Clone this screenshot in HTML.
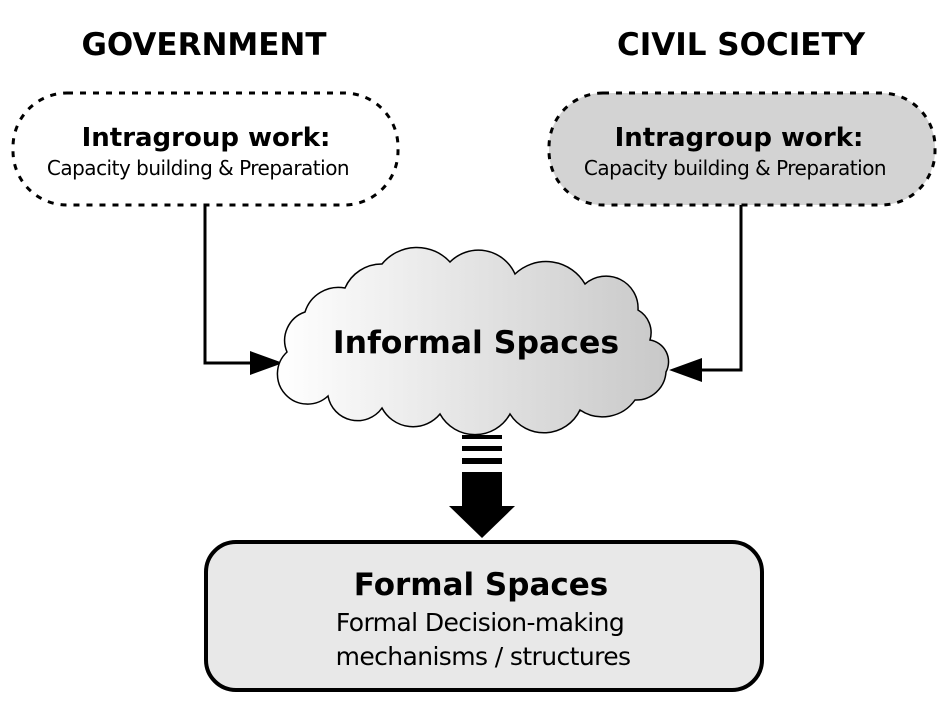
<!DOCTYPE html>
<html><head><meta charset="utf-8"><style>
html,body{margin:0;padding:0;background:#fff}
svg{display:block}
text{font-family:"DejaVu Sans","Liberation Sans",sans-serif;fill:#000}
</style></head><body>
<svg width="945" height="721" viewBox="0 0 945 721" xmlns="http://www.w3.org/2000/svg">
<defs>
<linearGradient id="cg" x1="0" x2="1" y1="0" y2="0">
<stop offset="0" stop-color="#ffffff"/><stop offset="1" stop-color="#c8c8c8"/>
</linearGradient>
</defs>
<text x="204" y="55" font-size="31" font-weight="bold" text-anchor="middle">GOVERNMENT</text>
<text x="741" y="55" font-size="31" font-weight="bold" text-anchor="middle">CIVIL SOCIETY</text>

<rect x="13" y="93" width="385" height="112" rx="54" fill="#fff" stroke="#000" stroke-width="3" stroke-dasharray="6 7"/>
<text x="206" y="146" font-size="26" font-weight="bold" text-anchor="middle">Intragroup work:</text>
<text x="198" y="175" font-size="20" text-anchor="middle" letter-spacing="-0.5">Capacity building &amp; Preparation</text>

<rect x="549" y="93" width="386" height="112" rx="54" fill="#d3d3d3" stroke="#000" stroke-width="3" stroke-dasharray="6 7"/>
<text x="739" y="146" font-size="26" font-weight="bold" text-anchor="middle">Intragroup work:</text>
<text x="735" y="175" font-size="20" text-anchor="middle" letter-spacing="-0.5">Capacity building &amp; Preparation</text>

<polyline points="205,205 205,363 255,363" fill="none" stroke="#000" stroke-width="3"/>
<polygon points="250,351 283,363 250,375" fill="#000"/>
<polyline points="741,205 741,370 700,370" fill="none" stroke="#000" stroke-width="3"/>
<polygon points="702,358 669,370 702,382" fill="#000"/>

<path d="M287,352 A30,30 0 0 1 305,312 A35,35 0 0 1 345,288 A40,40 0 0 1 382,264 A45,45 0 0 1 450,262 A40,40 0 0 1 515,274 A45,45 0 0 1 585,284 A32,32 0 0 1 638,310 A26,26 0 0 1 650,340 A22,22 0 0 1 666,372 A30,30 0 0 1 635,400 A40,40 0 0 1 580,410 A40,40 0 0 1 510,414 A40,40 0 0 1 440,414 A35,35 0 0 1 382,408 A30,30 0 0 1 328,396 A28,28 0 0 1 287,352 Z" fill="url(#cg)" stroke="#000" stroke-width="1.5"/>
<text x="476" y="353" font-size="31.5" font-weight="bold" text-anchor="middle">Informal Spaces</text>

<rect x="462" y="435" width="40" height="4" fill="#000"/>
<rect x="462" y="446" width="40" height="5" fill="#000"/>
<rect x="462" y="458" width="40" height="6" fill="#000"/>
<rect x="462" y="472" width="40" height="7" fill="#000"/>
<rect x="462" y="479" width="40" height="28" fill="#000"/>
<polygon points="449,506 515,506 482,538" fill="#000"/>

<rect x="206" y="542" width="556" height="148" rx="30" fill="#e8e8e8" stroke="#000" stroke-width="4"/>
<text x="481" y="595" font-size="31" font-weight="bold" text-anchor="middle">Formal Spaces</text>
<text x="480" y="631" font-size="25" text-anchor="middle" letter-spacing="-0.6">Formal Decision-making</text>
<text x="483" y="665" font-size="25" text-anchor="middle" letter-spacing="-0.6">mechanisms / structures</text>
</svg>
</body></html>
